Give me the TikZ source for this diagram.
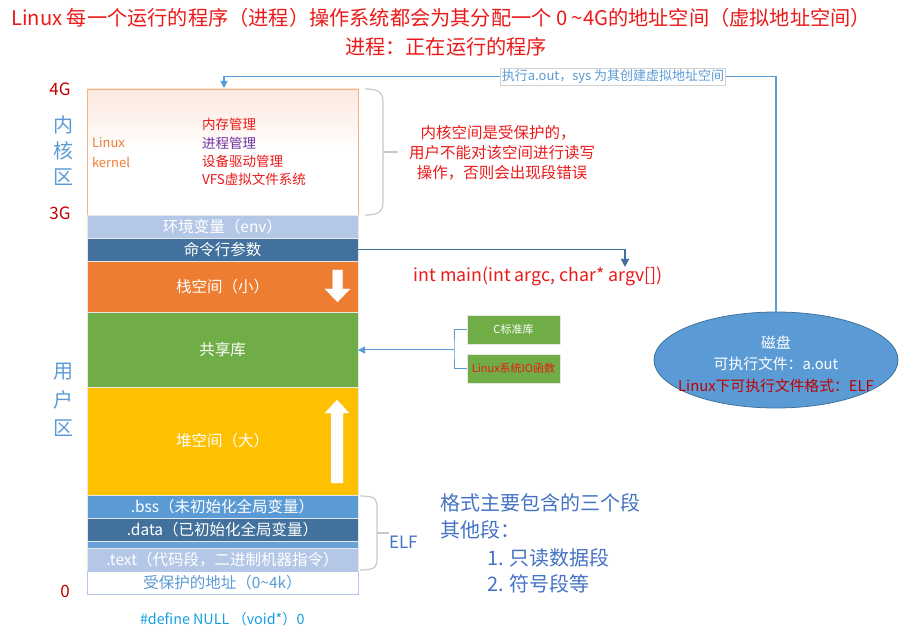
\documentclass[tikz,border=0pt]{standalone}
\usepackage{fontspec}
\setmainfont{Noto Sans CJK SC}
\usetikzlibrary{arrows.meta,shapes.geometric}
\definecolor{cred}{RGB}{235,25,25}
\definecolor{dred}{RGB}{192,0,0}
\definecolor{lblue}{RGB}{180,199,231}
\definecolor{dblue}{RGB}{65,113,156}
\definecolor{mblue}{RGB}{91,155,213}
\definecolor{sblue}{RGB}{105,160,215}
\definecolor{corange}{RGB}{237,125,49}
\definecolor{lorange}{RGB}{244,177,131}
\definecolor{korange}{RGB}{252,232,222}
\definecolor{cgreen}{RGB}{112,173,71}
\definecolor{cyellow}{RGB}{255,192,0}
\definecolor{tblue}{RGB}{68,114,196}
\definecolor{ccyan}{RGB}{20,160,225}
\definecolor{cpurple}{RGB}{112,48,160}
\definecolor{bracec}{RGB}{200,200,200}
\newcommand\myfs[1]{\fontsize{#1}{#1}\selectfont}
\begin{document}
\begin{tikzpicture}[x=1pt,y=-1pt,
  blk/.style={draw=white!82!gray, line width=0.6pt, minimum width=271pt, inner sep=0pt, outer sep=0pt, anchor=north west, text=white, font=\myfs{15.5}},
  txt/.style={inner sep=0pt, outer sep=0pt},
  gbox/.style={fill=cgreen, draw=white!80!gray, line width=0.6pt, minimum width=93pt, minimum height=29pt, inner sep=0pt, font=\myfs{11}},
  bracket/.style={draw=bracec, line width=1.2pt},
  warrow/.style={fill=white, draw=white!90!gray, line width=0.4pt}
]
\useasboundingbox (0,0) rectangle (906,639);

% title
\node[txt, text=cred, font=\myfs{20.2}] (t1) at (441,18) {Linux 每一个运行的程序（进程）操作系统都会为其分配一个 0 \textasciitilde4G的地址空间（虚拟地址空间）};
\node[txt, text=cred, font=\myfs{20.2}] (t2) at (446,47) {进程：正在运行的程序};

% memory blocks
\node[blk, draw=lorange, top color=korange, bottom color=white, middle color=white, minimum height=126pt] (kernel) at (87,89) {};
\node[blk, fill=lblue, minimum height=23pt] (env) at (87,215) {环境变量（env）};
\node[blk, fill=dblue, minimum height=23pt] (args) at (87,238) {命令行参数};
\node[blk, fill=corange, minimum height=51pt] (stack) at (87,261) {栈空间（小）};
\node[blk, fill=cgreen, minimum height=75pt] (shlib) at (87,312) {共享库};
\node[blk, fill=cyellow, minimum height=108pt] (heap) at (87,387) {堆空间（大）};
\node[blk, fill=mblue, minimum height=23pt] (bss) at (87,495) {.bss（未初始化全局变量）};
\node[blk, fill=dblue, minimum height=23pt] (data) at (87,518) {.data（已初始化全局变量）};
\node[blk, fill=sblue, minimum height=7pt] (strip) at (87,541) {};
\node[blk, fill=lblue, minimum height=23pt] (text) at (87,548) {.text（代码段，二进制机器指令）};
\node[blk, fill=white, draw=lblue, text=mblue, minimum height=23pt] (prot) at (87,571) {受保护的地址（0\textasciitilde4k）};

% growth arrows
\path[warrow] (332.5,270) -- (342.5,270) -- (342.5,289) -- (350,289) -- (337.5,302) -- (325,289) -- (332.5,289) -- cycle;
\path[warrow] (331,483) -- (343,483) -- (343,413) -- (349,413) -- (337,400) -- (325,413) -- (331,413) -- cycle;

% kernel contents
\node[txt, anchor=west, text=corange, font=\myfs{13}] (lk1) at (92,143) {Linux};
\node[txt, anchor=west, text=corange, font=\myfs{13}] (lk2) at (92,162) {kernel};
\node[txt, anchor=west, text=cred, font=\myfs{13.5}] (k1) at (202,124) {内存管理};
\node[txt, anchor=west, text=cpurple, font=\myfs{13.5}] (k2) at (202,143) {进程管理};
\node[txt, anchor=west, text=cred, font=\myfs{13.5}] (k3) at (202,161) {设备驱动管理};
\node[txt, anchor=west, text=cred, font=\myfs{13.5}] (k4) at (202,179) {VFS虚拟文件系统};

% left labels
\node[txt, text=dred, font=\myfs{17}] (g4) at (60,89) {4G};
\node[txt, text=mblue, font=\myfs{20}] (n1) at (63,125) {内};
\node[txt, text=mblue, font=\myfs{20}] (n2) at (63,151) {核};
\node[txt, text=mblue, font=\myfs{20}] (n3) at (63,177) {区};
\node[txt, text=dred, font=\myfs{17}] (g3) at (60,213) {3G};
\node[txt, text=mblue, font=\myfs{20}] (u1) at (63,372) {用};
\node[txt, text=mblue, font=\myfs{20}] (u2) at (63,400) {户};
\node[txt, text=mblue, font=\myfs{20}] (u3) at (63,428) {区};
\node[txt, text=dred, font=\myfs{17}] (g0) at (65,591) {0};

% kernel brace and note
\draw[bracket] (365,89) .. controls (383,89) and (383,95) .. (383,107) -- (383,197) .. controls (383,209) and (383,215) .. (365,215);
\draw[bracket] (383,152) -- (398,152);
\node[txt, text=cred, font=\myfs{15.5}] (w1) at (498,133) {内核空间是受保护的，};
\node[txt, text=cred, font=\myfs{15.5}] (w2) at (502,153) {用户不能对该空间进行读写};
\node[txt, text=cred, font=\myfs{15.5}] (w3) at (502,173) {操作，否则会出现段错误};

% main
\node[txt, text=cred, font=\myfs{17.8}] (main) at (538,276) {int main(int argc, char* argv[])};
\coordinate (mainin) at (625,267);
\draw[dblue, line width=1.8pt, -{Triangle[width=8pt,length=8pt]}] (args.east) -- (args.east -| mainin) -- (mainin);

% libraries
\node[gbox, text=white] (clib) at (513.5,329.5) {C标准库};
\node[gbox, text=cred] (sysio) at (513.5,368.5) {Linux系统IO函数};
\coordinate (jn) at (454,350);
\draw[mblue, line width=1pt] (clib.west) -| (jn) |- (sysio.west);
\draw[mblue, line width=1pt, -{Triangle[width=7pt,length=7pt]}] (jn) -- (shlib.east |- jn);

% disk
\node[ellipse, fill=mblue, draw=dblue, line width=0.8pt, minimum width=244pt, minimum height=96pt, inner sep=0pt] (disk) at (776,360) {};
\node[txt, text=white, font=\myfs{14.8}] (d1) at (776,343) {磁盘};
\node[txt, text=white, font=\myfs{14.8}] (d2) at (776,364) {可执行文件：a.out};
\node[txt, text=dred, font=\myfs{14.8}] (d3) at (776,386) {Linux下可执行文件格式：ELF};
\coordinate (kt) at (224,88);
\draw[mblue, line width=1.2pt, -{Triangle[width=7pt,length=7pt]}] (disk.north) -- ++(0,-235) -| (kt);
\node[fill=white, draw=gray!35, line width=0.5pt, inner sep=1.5pt, text=mblue, font=\myfs{13}] (exec) at (613,77) {执行a.out，sys 为其创建虚拟地址空间};

% ELF brace
\draw[bracket] (360,496) .. controls (377,496) and (377,500) .. (377,508) -- (377,558) .. controls (377,566) and (377,570) .. (360,570);
\draw[bracket] (377,533) -- (389,533);
\node[txt, anchor=west, text=tblue, font=\myfs{17}] (elf) at (389,542) {ELF};

% format notes
\node[txt, anchor=west, text=tblue, font=\myfs{20}] (f1) at (440,503) {格式主要包含的三个段};
\node[txt, anchor=west, text=tblue, font=\myfs{20}] (f2) at (440,530) {其他段：};
\node[txt, anchor=west, text=tblue, font=\myfs{20}] (f3) at (487,558) {1. 只读数据段};
\node[txt, anchor=west, text=tblue, font=\myfs{20}] (f4) at (487,584) {2. 符号段等};

% NULL
\node[txt, anchor=west, text=ccyan, font=\myfs{14.3}] (null) at (140,619) {\#define NULL （void*）0};
\end{tikzpicture}
\end{document}
